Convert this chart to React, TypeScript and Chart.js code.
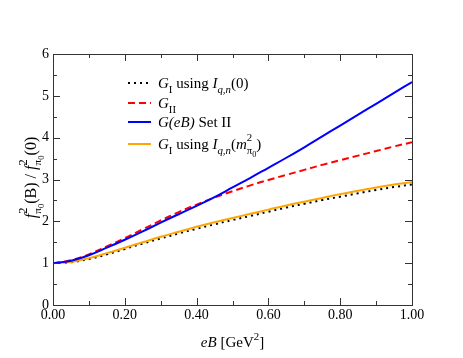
import React, { useEffect, useRef } from "react";
import { Chart, registerables } from "chart.js";
Chart.register(...registerables);

// ---- data ----
const eB = [0, 0.05, 0.1, 0.15, 0.2, 0.25, 0.3, 0.35, 0.4, 0.45, 0.5, 0.55, 0.6, 0.65, 0.7, 0.75, 0.8, 0.85, 0.9, 0.95, 1.0];
const gIUsingI0 = [1.0, 1.02, 1.1, 1.21, 1.34, 1.47, 1.59, 1.71, 1.82, 1.93, 2.03, 2.13, 2.23, 2.33, 2.42, 2.51, 2.59, 2.67, 2.75, 2.82, 2.88];
const gII = [1.0, 1.07, 1.21, 1.4, 1.6, 1.81, 2.02, 2.22, 2.4, 2.57, 2.72, 2.86, 2.99, 3.11, 3.23, 3.35, 3.46, 3.57, 3.68, 3.79, 3.89];
const gEBSetII = [1.0, 1.06, 1.19, 1.37, 1.56, 1.76, 1.97, 2.17, 2.37, 2.58, 2.81, 3.04, 3.28, 3.52, 3.77, 4.03, 4.29, 4.55, 4.81, 5.07, 5.33];
const gIUsingIMpi = [1.0, 1.03, 1.12, 1.24, 1.37, 1.5, 1.63, 1.75, 1.87, 1.98, 2.08, 2.18, 2.28, 2.38, 2.47, 2.56, 2.65, 2.73, 2.81, 2.88, 2.94];
const xTickValues = [0, 0.2, 0.4, 0.6, 0.8, 1.0];
const xTickLabels = ["0.00", "0.20", "0.40", "0.60", "0.80", "1.00"];
const yTickValues = [0, 1, 2, 3, 4, 5, 6];
const yTickLabels = ["0", "1", "2", "3", "4", "5", "6"];
const xMinorTicks = [0.1, 0.3, 0.5, 0.7, 0.9];
const yMinorTicks = [0.5, 1.5, 2.5, 3.5, 4.5, 5.5];

const SERIF = '"Liberation Serif", "Times New Roman", serif';

type Seg = { t?: string; it?: boolean; lvl?: number; mark?: boolean; reset?: boolean; sz?: number; up?: number };

function drawRich(ctx: CanvasRenderingContext2D, segs: Seg[], x: number, y: number, base: number) {
  let cx = x;
  let markX = x;
  let maxX = x;
  for (const s of segs) {
    if (s.mark) { markX = cx; continue; }
    if (s.reset) { cx = markX; }
    const lvl = s.lvl || 0;
    const size = s.sz ? base * s.sz : lvl === 0 ? base : lvl === -2 ? base * 0.55 : base * 0.72;
    const dy = s.up !== undefined ? -base * s.up : lvl === 0 ? 0 : lvl === 1 ? -base * 0.45 : lvl === -1 ? base * 0.3 : base * 0.5;
    ctx.font = `${s.it ? "italic " : ""}${size}px ${SERIF}`;
    ctx.fillText(s.t || "", cx, y + dy);
    cx += ctx.measureText(s.t || "").width;
    if (s.reset) { cx = Math.max(cx, maxX); }
    maxX = Math.max(maxX, cx);
  }
  return cx;
}

const legendItems: { color: string; dash: number[]; width: number; segs: Seg[] }[] = [
  {
    color: "#000000", dash: [2, 4], width: 2,
    segs: [{ t: "G", it: true }, { t: "I", lvl: -1 }, { t: " using " }, { t: "I", it: true }, { t: "q,n", it: true, lvl: -1 }, { t: "(0)" }],
  },
  { color: "#ff0000", dash: [7, 4], width: 2, segs: [{ t: "G", it: true }, { t: "II", lvl: -1 }] },
  { color: "#0000ff", dash: [], width: 2, segs: [{ t: "G(eB)", it: true }, { t: " Set II" }] },
  {
    color: "#ffa500", dash: [], width: 2,
    segs: [{ t: "G", it: true }, { t: "I", lvl: -1 }, { t: " using " }, { t: "I", it: true }, { t: "q,n", it: true, lvl: -1 }, { t: "(" }, { t: "m", it: true }, { mark: true }, { t: "π", lvl: -1 }, { t: "0", lvl: -2 }, { t: "2", lvl: 1, up: 0.55, reset: true }, { t: ")" }],
  },
];

const overlay = {
  id: "overlay",
  afterDatasetsDraw(chart: any) {
    const ctx: CanvasRenderingContext2D = chart.ctx;
    const { left, right, top, bottom } = chart.chartArea;
    const xs = chart.scales.x;
    const ys = chart.scales.y;
    ctx.save();
    ctx.strokeStyle = "#333";
    ctx.lineWidth = 1;
    ctx.setLineDash([]);
    ctx.strokeRect(left + 0.5, top + 0.5, right - left, bottom - top);
    ctx.beginPath();
    const tick = (vals: number[], len: number) => {
      for (const v of vals) {
        const px = Math.round(xs.getPixelForValue(v)) + 0.5;
        ctx.moveTo(px, bottom); ctx.lineTo(px, bottom - len);
        ctx.moveTo(px, top); ctx.lineTo(px, top + len);
      }
    };
    const ytick = (vals: number[], len: number) => {
      for (const v of vals) {
        const py = Math.round(ys.getPixelForValue(v)) + 0.5;
        ctx.moveTo(left, py); ctx.lineTo(left + len, py);
        ctx.moveTo(right, py); ctx.lineTo(right - len, py);
      }
    };
    tick(xTickValues, 7); tick(xMinorTicks, 4);
    ytick(yTickValues, 7); ytick(yMinorTicks, 4);
    ctx.stroke();

    // legend
    ctx.fillStyle = "#000";
    ctx.textBaseline = "alphabetic";
    const rowsY = [83, 103, 122, 144];
    legendItems.forEach((it, i) => {
      const y = rowsY[i];
      ctx.beginPath();
      ctx.strokeStyle = it.color;
      ctx.lineWidth = it.width;
      ctx.setLineDash(it.dash);
      ctx.moveTo(128, y); ctx.lineTo(151, y);
      ctx.stroke();
      ctx.setLineDash([]);
      drawRich(ctx, it.segs, 158, y + 5, 15);
    });

    // x title
    const xc = (left + right) / 2;
    const xSegs: Seg[] = [{ t: "eB", it: true }, { t: " [GeV" }, { t: "2", lvl: 1, up: 0.5 }, { t: "]" }];
    ctx.globalAlpha = 0;
    const xw = drawRich(ctx, xSegs, 0, -100, 15);
    ctx.globalAlpha = 1;
    drawRich(ctx, xSegs, xc - xw / 2, 347, 15);

    // y title
    const ySegs: Seg[] = [
      { t: "f", it: true }, { mark: true }, { t: "π", lvl: -1, sz: 0.7, up: -0.32 }, { t: "0", lvl: -2, sz: 0.55, up: -0.5 }, { t: "2", lvl: 1, sz: 0.78, up: 0.55, reset: true },
      { t: "(B) / " }, { t: "f", it: true }, { mark: true }, { t: "π", lvl: -1, sz: 0.7, up: -0.32 }, { t: "0", lvl: -2, sz: 0.55, up: -0.5 }, { t: "2", lvl: 1, sz: 0.78, up: 0.55, reset: true },
      { t: "(0)" },
    ];
    ctx.save();
    ctx.translate(36, (top + bottom) / 2 - 2);
    ctx.rotate(-Math.PI / 2);
    ctx.globalAlpha = 0;
    const tw = drawRich(ctx, ySegs, 0, 0, 16);
    ctx.globalAlpha = 1;
    drawRich(ctx, ySegs, -tw / 2, 0, 16);
    ctx.restore();
    ctx.restore();
  },
};

export default function App() {
  const ref = useRef<HTMLCanvasElement | null>(null);
  useEffect(() => {
    document.body.style.margin = "0";
    const ds = (data: number[], color: string, dash: number[], width: number) => ({
      data: eB.map((x, i) => ({ x, y: data[i] })),
      borderColor: color,
      backgroundColor: color,
      borderDash: dash,
      borderWidth: width,
      pointRadius: 0,
      tension: 0.4,
      fill: false,
    });
    const chart = new Chart(ref.current as HTMLCanvasElement, {
      type: "line",
      data: {
        datasets: [
          ds(gEBSetII, "#0000ff", [], 2),
          ds(gII, "#ff0000", [7, 4], 2),
          ds(gIUsingIMpi, "#ffa500", [], 2),
          ds(gIUsingI0, "#000000", [2, 4], 2),
        ],
      },
      options: {
        responsive: false,
        animation: false,
        layout: { padding: { left: 0, right: 51, top: 54, bottom: 0 } },
        plugins: { legend: { display: false }, tooltip: { enabled: false } },
        scales: {
          x: {
            type: "linear",
            min: 0,
            max: 1,
            afterFit: (s: any) => { s.height = 53; },
            afterBuildTicks: (s: any) => { s.ticks = xTickValues.map((v) => ({ value: v })); },
            grid: { display: false, drawTicks: false },
            border: { display: false },
            ticks: {
              padding: 2,
              color: "#000",
              maxRotation: 0,
              font: { family: SERIF, size: 14 },
              callback: (v: any) => xTickLabels[xTickValues.indexOf(Number(v))] ?? "",
            },
          },
          y: {
            type: "linear",
            min: 0,
            max: 6,
            afterFit: (s: any) => { s.width = 53; },
            afterBuildTicks: (s: any) => { s.ticks = yTickValues.map((v) => ({ value: v })); },
            grid: { display: false, drawTicks: false },
            border: { display: false },
            ticks: {
              padding: 4,
              color: "#000",
              font: { family: SERIF, size: 14 },
              callback: (v: any) => yTickLabels[yTickValues.indexOf(Number(v))] ?? "",
            },
          },
        },
      },
      plugins: [overlay],
    } as any);
    return () => chart.destroy();
  }, []);
  return (
    <div style={{ width: 463, height: 358, background: "#fff" }}>
      <canvas ref={ref} width={463} height={358} style={{ display: "block" }} />
    </div>
  );
}
